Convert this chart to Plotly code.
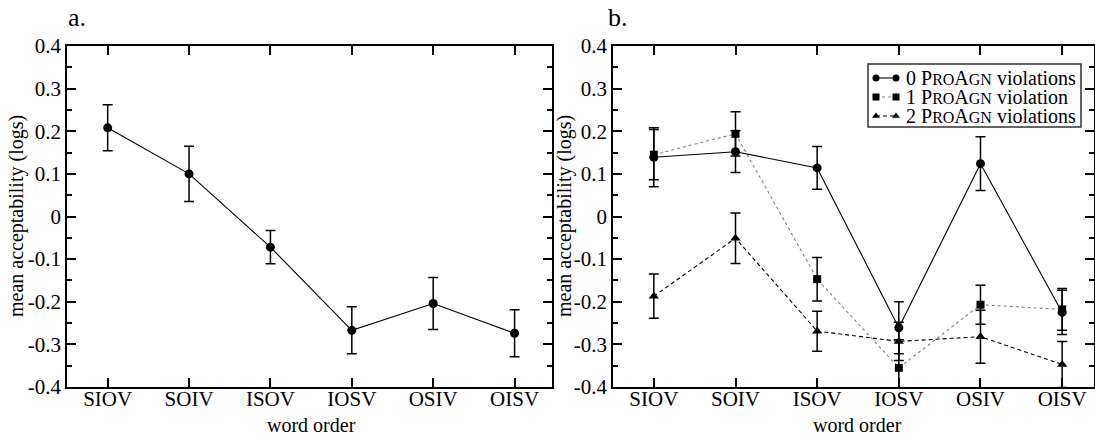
import plotly.graph_objects as go

# ---------------- data ----------------
categories = ["SIOV", "SOIV", "ISOV", "IOSV", "OSIV", "OISV"]

a_mean = [0.208, 0.100, -0.072, -0.267, -0.204, -0.274]
a_err = [0.054, 0.065, 0.039, 0.055, 0.061, 0.055]

b0_mean = [0.139, 0.152, 0.114, -0.261, 0.124, -0.225]
b0_err = [0.069, 0.049, 0.050, 0.061, 0.063, 0.052]
b1_mean = [0.145, 0.194, -0.147, -0.355, -0.207, -0.218]
b1_err = [0.059, 0.052, 0.051, 0.066, 0.046, 0.049]
b2_mean = [-0.187, -0.051, -0.269, -0.293, -0.282, -0.347]
b2_err = [0.052, 0.059, 0.047, 0.045, 0.062, 0.054]

series_labels = [
    "0 P<span style='font-size:16px'>RO</span>A<span style='font-size:16px'>GN</span> violations",
    "1 P<span style='font-size:16px'>RO</span>A<span style='font-size:16px'>GN</span> violation",
    "2 P<span style='font-size:16px'>RO</span>A<span style='font-size:16px'>GN</span> violations",
]

y_ticks = [-0.4, -0.3, -0.2, -0.1, 0.0, 0.1, 0.2, 0.3, 0.4]
y_ticktext = ["-0.4", "-0.3", "-0.2", "-0.1", "0", "0.1", "0.2", "0.3", "0.4"]
y_minor = [-0.35, -0.25, -0.15, -0.05, 0.05, 0.15, 0.25, 0.35]

# ---------------- layout helpers ----------------
W, H = 1095, 437
FONT = "Liberation Serif"


def px(x):
    return x / W


def py(y):
    return 1 - y / H


xidx = list(range(len(categories)))

styles = [
    dict(line=dict(color="black", width=1.1, dash="solid"),
         marker=dict(symbol="circle", size=9, color="black")),
    dict(line=dict(color="#808080", width=1.1, dash="dot"),
         marker=dict(symbol="square", size=8, color="black")),
    dict(line=dict(color="black", width=1.1, dash="4px,3px"),
         marker=dict(symbol="triangle-up", size=9, color="black")),
]


def ebar(arr):
    return dict(type="data", array=arr, visible=True, color="black",
                thickness=1.5, width=5)


fig = go.Figure()

# panel a
fig.add_trace(go.Scatter(x=xidx, y=a_mean, error_y=ebar(a_err), mode="lines+markers",
                         line=dict(color="black", width=1.1),
                         marker=dict(symbol="circle", size=9, color="black"),
                         xaxis="x", yaxis="y", showlegend=False))

# panel b
for mean, err, st in [(b2_mean, b2_err, styles[2]), (b1_mean, b1_err, styles[1]),
                      (b0_mean, b0_err, styles[0])]:
    fig.add_trace(go.Scatter(x=xidx, y=mean, error_y=ebar(err), mode="lines+markers",
                             line=st["line"], marker=st["marker"],
                             xaxis="x2", yaxis="y2", showlegend=False))

# custom legend samples (overlay axis in pixel units)
leg_left, leg_right, leg_top, leg_bottom = 868, 1081, 64, 127
row_y = [78, 97, 116]
for i, st in enumerate(styles):
    fig.add_trace(go.Scatter(x=[876, 896], y=[row_y[i], row_y[i]], mode="lines+markers",
                             line=st["line"],
                             marker=dict(symbol=st["marker"]["symbol"], size=7, color="black"),
                             xaxis="x3", yaxis="y3", showlegend=False, hoverinfo="skip"))

common_x = dict(tickmode="array", tickvals=xidx, ticktext=categories,
                ticks="inside", ticklen=9, tickwidth=1.5, tickcolor="black",
                showline=True, linecolor="black", linewidth=1.6, mirror="ticks",
                showgrid=False, zeroline=False, automargin=False,
                ticklabelstandoff=-8,
                tickfont=dict(family=FONT, size=21, color="black"))
common_y = dict(range=[-0.4, 0.4], tickmode="array", tickvals=y_ticks, ticktext=y_ticktext,
                ticks="inside", ticklen=9, tickwidth=1.5, tickcolor="black",
                minor=dict(tickvals=y_minor, ticks="inside", ticklen=5, tickwidth=1.5,
                           tickcolor="black", showgrid=False),
                showline=True, linecolor="black", linewidth=1.6, mirror="ticks",
                showgrid=False, zeroline=False, automargin=False,
                tickfont=dict(family=FONT, size=21, color="black"))

fig.update_layout(
    width=W, height=H,
    margin=dict(l=0, r=0, t=0, b=0, autoexpand=False),
    paper_bgcolor="white", plot_bgcolor="white",
    font=dict(family=FONT, size=20, color="black"),
    xaxis=dict(common_x, domain=[px(67), px(552)], range=[-0.5, 5.46], anchor="y"),
    yaxis=dict(common_y, domain=[py(387), py(46)], anchor="x"),
    xaxis2=dict(common_x, domain=[px(613), px(1094)], range=[-0.5, 5.39], anchor="y2"),
    yaxis2=dict(common_y, domain=[py(387), py(46)], anchor="x2"),
    xaxis3=dict(domain=[px(leg_left), px(leg_right)], range=[leg_left, leg_right],
                visible=False, anchor="y3", fixedrange=True, automargin=False),
    yaxis3=dict(domain=[py(leg_bottom), py(leg_top)], range=[leg_bottom, leg_top],
                visible=False, anchor="x3", fixedrange=True, automargin=False),
    showlegend=False,
)

fig.add_shape(type="rect", xref="paper", yref="paper",
              x0=px(leg_left), x1=px(leg_right), y0=py(leg_bottom), y1=py(leg_top),
              line=dict(color="#333333", width=1.5), fillcolor="rgba(0,0,0,0)", layer="above")

annotations = []
for i, lab in enumerate(series_labels):
    annotations.append(dict(text=lab, x=px(904), y=py(row_y[i]), xref="paper", yref="paper",
                            xanchor="left", yanchor="middle", showarrow=False,
                            font=dict(family=FONT, size=20, color="black")))

# panel letters
annotations.append(dict(text="a.", x=px(66), y=py(18), xref="paper", yref="paper",
                        xanchor="left", yanchor="middle", showarrow=False,
                        font=dict(family=FONT, size=26, color="black")))
annotations.append(dict(text="b.", x=px(606), y=py(18), xref="paper", yref="paper",
                        xanchor="left", yanchor="middle", showarrow=False,
                        font=dict(family=FONT, size=26, color="black")))

# axis titles
for xc in [17, 565]:
    annotations.append(dict(text="mean acceptability (logs)", x=px(xc), y=py(216),
                            xref="paper", yref="paper", xanchor="center", yanchor="middle",
                            textangle=-90, showarrow=False,
                            font=dict(family=FONT, size=20, color="black")))
for xc in [311, 857]:
    annotations.append(dict(text="word order", x=px(xc), y=py(425),
                            xref="paper", yref="paper", xanchor="center", yanchor="middle",
                            showarrow=False, font=dict(family=FONT, size=20, color="black")))

fig.update_layout(annotations=annotations)

fig.write_html("out.html")
